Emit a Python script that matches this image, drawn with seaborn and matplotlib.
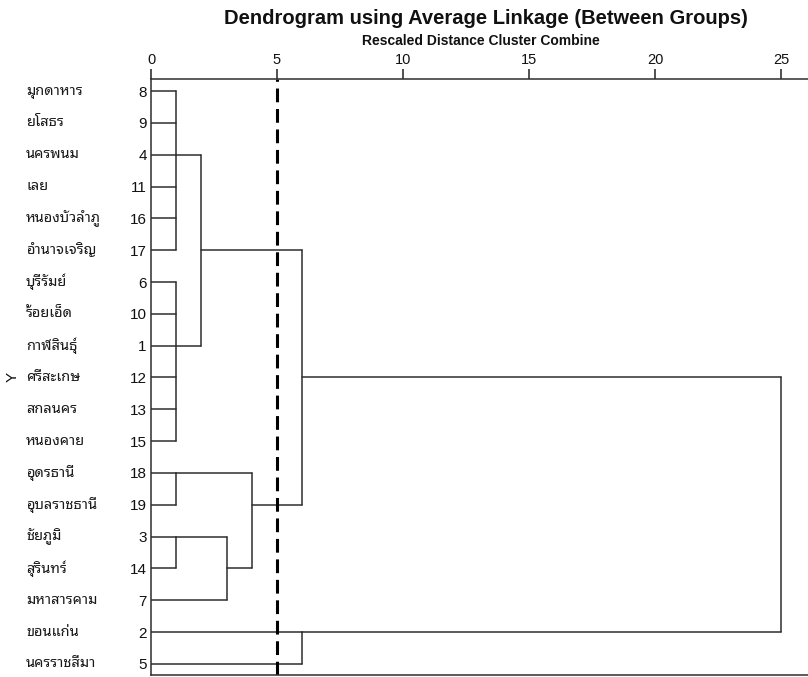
import matplotlib
matplotlib.use("Agg")
import matplotlib.pyplot as plt
import matplotlib.transforms as mtransforms
from matplotlib import font_manager
from matplotlib.ft2font import FT2Font
import seaborn as sns
import pandas as pd

# Leaves in dendrogram order (top to bottom)
leaf_ids = [8, 9, 4, 11, 16, 17, 6, 10, 1, 12, 13, 15, 18, 19, 3, 14, 7, 2, 5]
leaf_names = ["มุกดาหาร", "ยโสธร", "นครพนม", "เลย", "หนองบัวลำภู", "อำนาจเจริญ",
              "บุรีรัมย์", "ร้อยเอ็ด", "กาฬสินธุ์", "ศรีสะเกษ", "สกลนคร", "หนองคาย",
              "อุดรธานี", "อุบลราชธานี", "ชัยภูมิ", "สุรินทร์", "มหาสารคาม",
              "ขอนแก่น", "นครราชสีมา"]

# Merges: node name, children (leaf ids or node names), rescaled distance
merge_names = ["A", "B", "C", "D", "E", "F", "G", "H", "I", "J"]
merge_children = [[8, 9, 4, 11, 16, 17], [6, 10, 1, 12, 13, 15], ["A", "B"],
                  [18, 19], [3, 14], ["E", 7], ["D", "F"], ["C", "G"],
                  [2, 5], ["H", "I"]]
merge_heights = [1, 1, 2, 1, 1, 3, 4, 6, 6, 25]

cut_level = 5
x_ticks = [0, 5, 10, 15, 20, 25]

title = "Dendrogram using Average Linkage (Between Groups)"
subtitle = "Rescaled Distance Cluster Combine"


def find_thai_font():
    preferred = ["Noto Sans Thai Looped", "Loma", "Garuda", "Noto Sans Thai",
                 "Noto Sans Thai UI", "Tlwg Typo", "Norasi", "Waree", "Sarabun", "Kinnari"]
    found = []
    for f in font_manager.fontManager.ttflist:
        try:
            if 0x0E01 in FT2Font(f.fname).get_charmap():
                found.append(f.name)
        except Exception:
            pass
    for p in preferred:
        if p in found:
            return p
    return found[0] if found else "DejaVu Sans"


sns.set_theme(style="white")
plt.rcParams["font.family"] = ["Liberation Sans", "DejaVu Sans"]
thai_font = find_thai_font()

# rows and heights of every node
row_of = {lid: i for i, lid in enumerate(leaf_ids)}
height_of = {lid: 0 for lid in leaf_ids}
parent_h = {}
segs = []
for name, kids, h in zip(merge_names, merge_children, merge_heights):
    rows = [row_of[k] for k in kids]
    top, bot = min(rows), max(rows)
    segs.append(([h, h], [top, bot]))
    row_of[name] = (top + bot) // 2
    height_of[name] = h
    for k in kids:
        parent_h[k] = h
for node, ph in parent_h.items():
    segs.append(([height_of[node], ph], [row_of[node], row_of[node]]))

seg_df = pd.DataFrame([
    {"seg": i, "x": x, "y": y}
    for i, (xs, ys) in enumerate(segs) for x, y in zip(xs, ys)
])

W, H = 808, 677
fig = plt.figure(figsize=(W / 100, H / 100), dpi=100)
ax = fig.add_axes([151 / W, 1 - 675 / H, 1 - 151 / W, (675 - 79) / H])

sns.lineplot(data=seg_df, x="x", y="y", units="seg", estimator=None, sort=False,
             color="#2e2e2e", linewidth=1.1, ax=ax, legend=False)
ax.axvline(cut_level, color="black", linewidth=2.2, linestyle=(0, (4.5, 2.2)))

n = len(leaf_ids)
ax.set_xlim(0, 657 / 25.2)
ax.set_ylim(18.35, -0.38)

ax.xaxis.tick_top()
ax.set_xticks(x_ticks)
ax.set_xticklabels([str(t) for t in x_ticks], fontsize=10.5)
ax.tick_params(axis="x", direction="out", length=7, width=1.1, color="#222222",
               pad=2.0, labelcolor="#111111", top=True, bottom=False)
ax.set_yticks(range(n))
ax.set_yticklabels([str(i) for i in leaf_ids], fontsize=11, color="#111111")
ax.tick_params(axis="y", length=0, pad=3.0)
ax.set_xlabel("")
ax.set_ylabel("")

for side in ["top", "left", "bottom"]:
    ax.spines[side].set_color("#2e2e2e")
    ax.spines[side].set_linewidth(1.1)
ax.spines["right"].set_visible(False)

trans = mtransforms.blended_transform_factory(fig.transFigure, ax.transData)
for i, nm in enumerate(leaf_names):
    ax.text(26 / W, i, nm, transform=trans, ha="left", va="center",
            fontsize=10.5, fontweight="bold", family=[thai_font, "DejaVu Sans"],
            color="#1a1a1a")

fig.text(13 / W, 1 - 377 / H, "Y", rotation=90, ha="center", va="center",
         fontsize=11, color="#111111")
fig.text(486 / W, 1 - 24 / H, title, ha="center", va="baseline",
         fontsize=14.5, fontweight="bold", color="#111111")
fig.text(481 / W, 1 - 45 / H, subtitle, ha="center", va="baseline",
         fontsize=10, fontweight="bold", color="#111111")

fig.savefig("out.png", dpi=100)
